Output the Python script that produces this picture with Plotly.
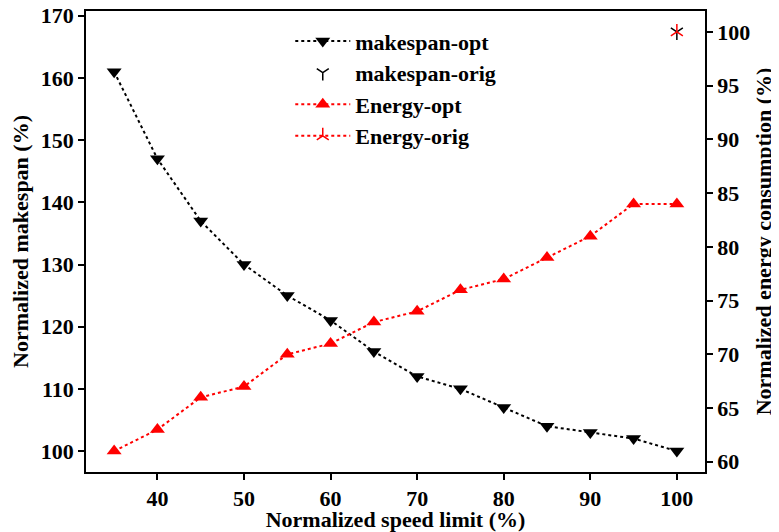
import plotly.graph_objects as go

speed = [35, 40, 45, 50, 55, 60, 65, 70, 75, 80, 85, 90, 95, 100]
makespan_opt = [161, 147, 137, 130, 125, 121, 116, 112, 110, 107, 104, 103, 102, 100]
energy_opt = [61, 63, 66, 67, 70, 71, 73, 74, 76, 77, 79, 81, 84, 84]
orig_speed = [100]
makespan_orig = [167.4]
energy_orig = [100]

x_ticks = [40, 50, 60, 70, 80, 90, 100]
y_ticks = [100, 110, 120, 130, 140, 150, 160, 170]
y2_ticks = [60, 65, 70, 75, 80, 85, 90, 95, 100]

FONT = "Liberation Serif"

fig = go.Figure()
fig.add_trace(go.Scatter(
    x=speed, y=makespan_opt, name="makespan-opt", mode="lines+markers",
    line=dict(color="black", width=2, dash="dot"),
    marker=dict(symbol="triangle-down", size=13, color="black"),
    yaxis="y"))
fig.add_trace(go.Scatter(
    x=orig_speed, y=makespan_orig, name="makespan-orig", mode="markers",
    marker=dict(symbol="y-down", size=10, color="black",
                line=dict(color="black", width=1.5)),
    yaxis="y"))
fig.add_trace(go.Scatter(
    x=speed, y=energy_opt, name="Energy-opt", mode="lines+markers",
    line=dict(color="red", width=2, dash="dot"),
    marker=dict(symbol="triangle-up", size=13, color="red"),
    yaxis="y2"))
fig.add_trace(go.Scatter(
    x=orig_speed, y=energy_orig, name="Energy-orig", mode="lines+markers",
    line=dict(color="red", width=2, dash="dot"),
    marker=dict(symbol="y-up", size=10, color="red",
                line=dict(color="red", width=1.5)),
    yaxis="y2"))

axis_common = dict(
    showgrid=False, zeroline=False, showline=True, linecolor="black",
    linewidth=1.5, ticks="outside", ticklen=6, tickwidth=1.5, tickcolor="black",
    automargin=False, ticklabeloverflow="allow",
    tickfont=dict(family=FONT, size=22, color="black", weight="bold"),
)

# the page body adds an 8px offset, so the figure is 8px smaller and margins shifted
fig.update_layout(
    width=771, height=524,
    margin=dict(l=78, r=74, t=3, b=60),
    paper_bgcolor="white", plot_bgcolor="white",
    font=dict(family=FONT, size=22, color="black", weight="bold"),
    xaxis=dict(range=[31.75, 103.25], tickvals=x_ticks, mirror=True,
               title=dict(text="Normalized speed limit (%)", standoff=3,
                          font=dict(family=FONT, size=22, weight="bold")),
               **axis_common),
    yaxis=dict(range=[96.63, 170.77], tickvals=y_ticks,
               title=dict(text="Normalized makespan (%)", standoff=8,
                          font=dict(family=FONT, size=22, weight="bold")),
               **axis_common),
    yaxis2=dict(range=[59.05, 101.95], tickvals=y2_ticks, overlaying="y",
                side="right",
                title=dict(text="Normalized energy consumption (%)", standoff=6,
                           font=dict(family=FONT, size=22, weight="bold")),
                **axis_common),
    legend=dict(x=0.33, y=0.98, xanchor="left", yanchor="top",
                bgcolor="rgba(0,0,0,0)", tracegroupgap=0, itemwidth=55,
                font=dict(family=FONT, size=22, color="black", weight="bold")),
    showlegend=True,
)

fig.write_html("out.html")
